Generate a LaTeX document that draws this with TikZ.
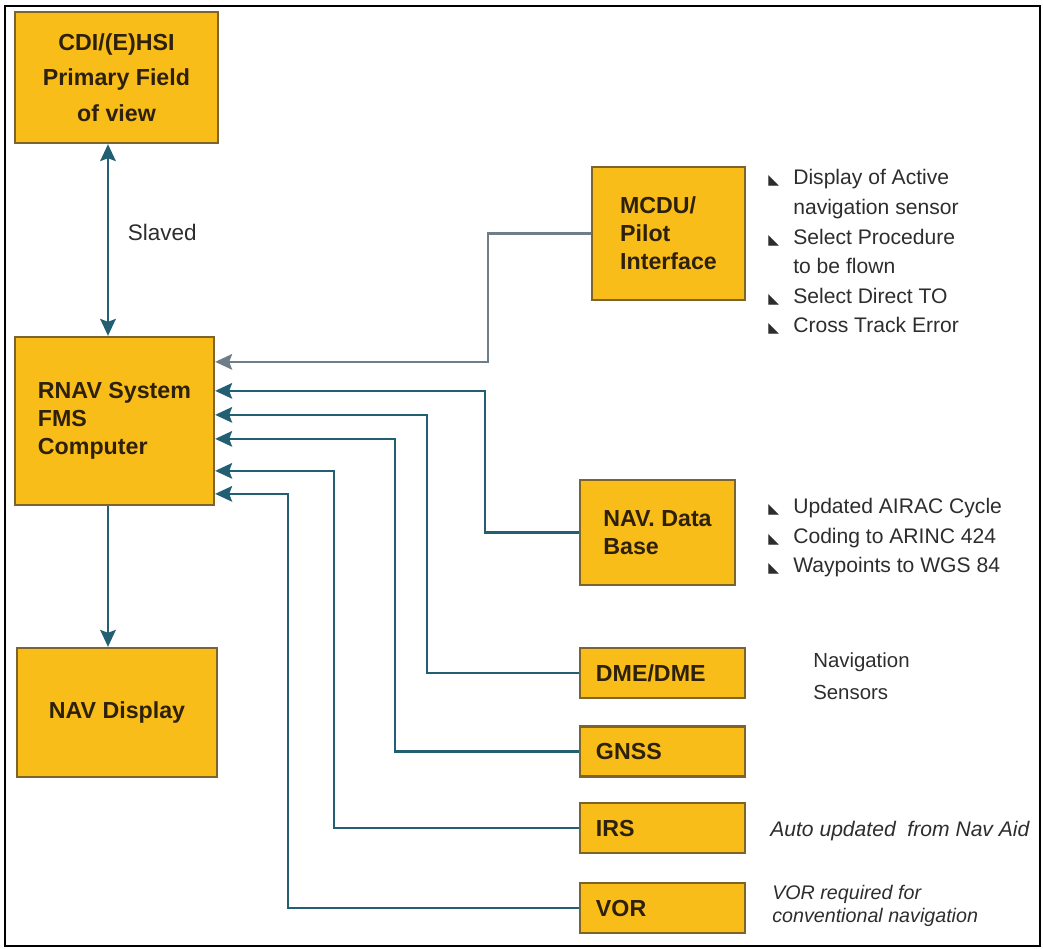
\documentclass[tikz,border=0pt]{standalone}
\usepackage{fontspec}
\setmainfont{Liberation Sans}
\newfontfamily\symfont{DejaVu Sans}
\usepackage{tikz}
\usetikzlibrary{arrows.meta,positioning,calc}

\definecolor{boxfill}{RGB}{248,189,25}
\definecolor{boxline}{RGB}{125,100,45}
\definecolor{boxtext}{RGB}{45,32,12}
\definecolor{flowcol}{RGB}{35,95,115}
\definecolor{mcducol}{RGB}{110,125,135}
\definecolor{notecol}{RGB}{45,45,45}

\newcommand{\tri}{\makebox[0.625cm][l]{\symfont\fontsize{10}{10}\selectfont ◣}}
\newcommand{\ind}{\hspace*{0.625cm}}

\begin{document}
\begin{tikzpicture}[x=0.025cm,y=-0.025cm,
  unit/.style={draw=boxline, fill=boxfill, line width=1.6pt, text=boxtext,
    font=\bfseries\fontsize{16.5}{20}\selectfont, inner sep=0pt},
  sensor/.style={unit, minimum height=1.25cm, text width=3.325cm, align=left, inner xsep=0.4cm},
  flow/.style={draw=flowcol, line width=1.9pt, -{Stealth[length=12pt,width=11pt,inset=2pt]}},
  note/.style={text=notecol, font=\fontsize{15}{21}\selectfont, align=left, inner sep=0pt}]
\useasboundingbox (0,0) rectangle (1043,948);
\draw[line width=0.8pt] (5,6) rectangle (1040,946);
% left column
\node[unit, minimum width=5.075cm, minimum height=3.275cm, align=center,
  font=\bfseries\fontsize{16.5}{25.3}\selectfont] (cdi) at (116.5,77.5) {CDI/(E)HSI\\Primary Field\\of view};
\node[unit, minimum width=4.975cm, minimum height=4.2cm, align=left] (rnav) at (114.5,421) {RNAV System\\FMS\\Computer};
\node[unit, minimum width=5cm, minimum height=3.225cm] (navdisp) at (117,712.5) {NAV Display};
% right column
\node[unit, minimum width=3.825cm, minimum height=3.325cm, align=left] (mcdu) at (668.5,233.5) {MCDU/\\Pilot\\Interface};
\node[unit, minimum width=3.875cm, minimum height=2.625cm, align=left] (navdb) at (657.5,532.5) {NAV. Data\\Base};
\node[sensor] (dme) at (662.5,673) {DME/DME};
\node[sensor] (gnss) at (662.5,751.5) {GNSS};
\node[sensor] (irs) at (662.5,828) {IRS};
\node[sensor] (vor) at (662.5,908) {VOR};
% notes
\node[note, anchor=west] (mcdunote) at (768,252) {\tri Display of Active\\\ind navigation sensor\\\tri Select Procedure\\\ind to be flown\\\tri Select Direct TO\\\tri Cross Track Error};
\node[note, anchor=west] (dbnote) at (768,538) {\tri Updated AIRAC Cycle\\\tri Coding to ARINC 424\\\tri Waypoints to WGS 84};
\node[note, anchor=west, font=\fontsize{14.5}{22.8}\selectfont] (sensnote) at (813,676) {Navigation\\Sensors};
\node[note, anchor=west, font=\itshape\fontsize{15}{21}\selectfont] (irsnote) at (770,831) {Auto updated\ \ from Nav Aid};
\node[note, anchor=west, font=\itshape\fontsize{14}{16.5}\selectfont] (vornote) at (772,906) {VOR required for\\conventional navigation};
% vertical links
\coordinate (ax) at (108,0);
\draw[flow, {Stealth[length=12pt,width=11pt,inset=2pt]}-{Stealth[length=12pt,width=11pt,inset=2pt]}] (cdi.south -| ax) -- (rnav.north -| ax);
\node[text=notecol, font=\fontsize{16}{16}\selectfont, anchor=west] (slaved) at (123,232) {Slaved};
\draw[flow] (rnav.south -| ax) -- (navdisp.north -| ax);
% inputs to the FMS
\foreach \s/\dy/\x/\c in {mcdu/26/488/mcducol, navdb/55/485/flowcol, dme/79/427/flowcol, gnss/103/395/flowcol, irs/135/334/flowcol, vor/158/288/flowcol} {
  \coordinate (in) at ($(rnav.north east)+(0,\dy)$);
  \coordinate (bend) at (\x,0);
  \draw[flow, draw=\c] (\s.west) -| (bend |- in) -- (in);
}
\end{tikzpicture}
\end{document}
